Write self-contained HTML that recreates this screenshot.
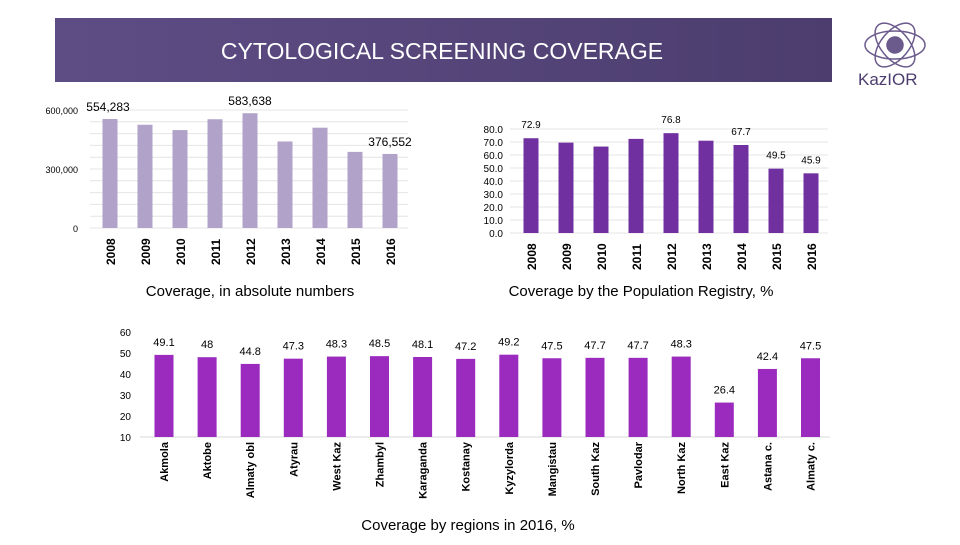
<!DOCTYPE html>
<html><head><meta charset="utf-8"><style>
body{margin:0;width:960px;height:540px;background:#fff;overflow:hidden;font-family:"Liberation Sans",sans-serif}
svg text{font-family:"Liberation Sans",sans-serif}
</style></head><body>
<svg id="s" width="960" height="540" xmlns="http://www.w3.org/2000/svg">
<defs><linearGradient id="g" x1="0" x2="1"><stop offset="0" stop-color="#5e4d85"/><stop offset="1" stop-color="#4c3d6e"/></linearGradient></defs>
<rect x="55" y="18" width="777" height="64" fill="url(#g)"/>
<text x="442" y="59" font-size="23" fill="#fff" text-anchor="middle">CYTOLOGICAL SCREENING COVERAGE</text>
<g fill="none" stroke="#6b5a8c" stroke-width="1.5">
<ellipse cx="895" cy="45" rx="30" ry="14"/><ellipse cx="895" cy="45" rx="14" ry="26" transform="rotate(40 895 45)"/><ellipse cx="895" cy="45" rx="14" ry="26" transform="rotate(-40 895 45)"/>
<circle cx="895" cy="45" r="8" fill="#6b5a8c"/>
</g>
<text x="858" y="85" font-size="17" fill="#4c3d6e">KazIOR</text>
<g id="c1"></g><g id="c2"></g><g id="c3"></g>
<text x="250" y="296" font-size="15" fill="#000" text-anchor="middle">Coverage,  in absolute numbers</text>
<text x="641" y="296" font-size="15" fill="#000" text-anchor="middle">Coverage by the Population Registry, %</text>
<text x="468" y="530" font-size="15" fill="#000" text-anchor="middle">Coverage by regions in 2016, %</text>
</svg>
<script>
const years=["2008","2009","2010","2011","2012","2013","2014","2015","2016"];
const absValues=[554283,525000,498000,553000,583638,440000,510000,387000,376552];
const absLabels=["554,283","","","","583,638","","","","376,552"];
const absTicks=[0,300000,600000];
const absTickLabels=["0","300,000","600,000"];
const pctValues=[72.9,69.5,66.5,72.4,76.8,71.0,67.7,49.5,45.9];
const pctLabels=["72.9","","","","76.8","","67.7","49.5","45.9"];
const pctTicks=[0,10,20,30,40,50,60,70,80];
const regions=["Akmola","Aktobe","Almaty obl","Atyrau","West Kaz","Zhambyl","Karaganda","Kostanay","Kyzylorda","Mangistau","South Kaz","Pavlodar","North Kaz","East Kaz","Astana c.","Almaty c."];
const regValues=[49.1,48,44.8,47.3,48.3,48.5,48.1,47.2,49.2,47.5,47.7,47.7,48.3,26.4,42.4,47.5];
const regTicks=[10,20,30,40,50,60];
const NS="http://www.w3.org/2000/svg";
function mk(p,t,a,txt){const e=document.createElementNS(NS,t);for(const k in a)e.setAttribute(k,a[k]);if(txt!==undefined)e.textContent=txt;p.appendChild(e);return e;}
// chart1
(function(){const g=document.getElementById('c1');
const y=v=>228-v/600000*118, x=i=>110+i*35;
for(let k=0;k<=10;k++){const l=mk(g,'line',{x1:90,x2:408,y1:y(k*60000),y2:y(k*60000),stroke:'#e4e4e4'});

}
absTicks.forEach((t,i)=>{const e=mk(g,'text',{x:78,y:y(t)+4,'font-size':9,'text-anchor':'end'},absTickLabels[i]);

});
absValues.forEach((v,i)=>{const r=mk(g,'rect',{x:x(i)-7.5,y:y(v),width:15,height:y(0)-y(v),fill:'#b0a2c8'});


const t=mk(g,'text',{transform:`translate(${x(i)+5},265) rotate(-90)`,'font-size':12,'font-weight':'bold'},years[i]);


if(absLabels[i]){const d=mk(g,'text',{x:i==0?x(i)-2:x(i),y:y(v)-8,'font-size':12,'text-anchor':'middle'},absLabels[i]);

}});
})();
// chart2
(function(){const g=document.getElementById('c2');
const y=v=>233-v*1.3, x=i=>531+i*35;
pctTicks.forEach(t=>{const l=mk(g,'line',{x1:510,x2:828,y1:y(t),y2:y(t),stroke:'#e4e4e4'});


const e=mk(g,'text',{x:503,y:y(t)+4,'font-size':10,'text-anchor':'end'},t.toFixed(1));

});
pctValues.forEach((v,i)=>{const r=mk(g,'rect',{x:x(i)-7.5,y:y(v),width:15,height:y(0)-y(v),fill:'#7030a0'});


const t=mk(g,'text',{transform:`translate(${x(i)+5},270) rotate(-90)`,'font-size':12,'font-weight':'bold'},years[i]);


if(pctLabels[i]){const d=mk(g,'text',{x:x(i),y:y(v)-10,'font-size':10,'text-anchor':'middle'},pctLabels[i]);

}});
})();
// chart3
(function(){const g=document.getElementById('c3');
const y=v=>437-(v-10)*2.1, x=i=>164+i*43.1;
regTicks.forEach(t=>{const e=mk(g,'text',{x:131,y:y(t)+4,'font-size':10,'text-anchor':'end'},t);

});
const a=mk(g,'line',{x1:140,x2:830,y1:y(10),y2:y(10),stroke:'#d9d9d9'});


regValues.forEach((v,i)=>{const r=mk(g,'rect',{x:x(i)-9.5,y:y(v),width:19,height:y(10)-y(v),fill:'#9b2bbf'});


const t=mk(g,'text',{transform:`translate(${x(i)+4},442) rotate(-90)`,'font-size':11,'font-weight':'bold','text-anchor':'end'},regions[i]);


const d=mk(g,'text',{x:x(i),y:y(v)-9,'font-size':11,'text-anchor':'middle'},String(v));

});
})();
</script>
</body></html>
